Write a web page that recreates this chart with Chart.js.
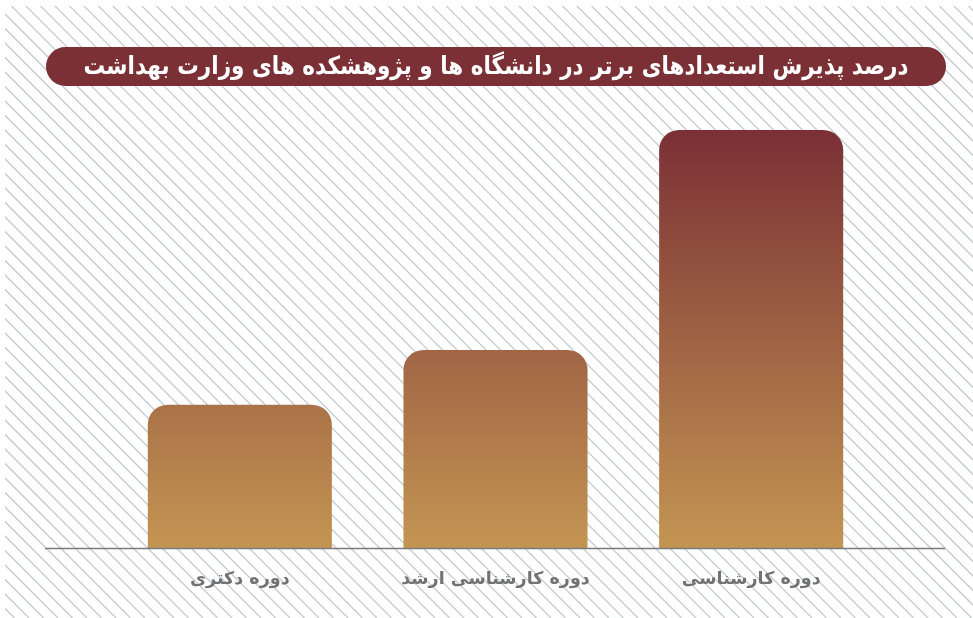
<!DOCTYPE html>
<html lang="fa">
<head>
<meta charset="utf-8">
<script src="https://cdn.jsdelivr.net/npm/chart.js@4"></script>
<style>
    body { margin: 0; background: #fff; }
    canvas { display: block; }
</style>
</head>
<body>
<canvas id="chart" width="973" height="618"></canvas>
<script>
// داده ها
const chartTitle = 'درصد پذیرش استعدادهای برتر در دانشگاه ها و پژوهشکده های وزارت بهداشت';
const categories = ['دوره دکتری', 'دوره کارشناسی ارشد', 'دوره کارشناسی'];
const values = [32, 44.2, 93.3];

const maroon = '#7b3035';
const gold = '#c39552';

// پس زمینه هاشور خورده
const hatchPlugin = {
    id: 'hatch',
    beforeDraw(chart) {
        const ctx = chart.ctx;
        const w = chart.width, h = chart.height;
        ctx.save();
        ctx.beginPath();
        ctx.rect(5, 6, w - 5, h - 6);
        ctx.clip();
        ctx.strokeStyle = '#c3cbd0';
        ctx.lineWidth = 1.25;
        for (let x = -h; x < w + 20; x += 14.5) {
            ctx.beginPath();
            ctx.moveTo(x, 0);
            ctx.lineTo(x + h, h);
            ctx.stroke();
        }
        ctx.restore();
    }
};

// عنوان داخل کادر گرد
const titlePlugin = {
    id: 'pillTitle',
    afterDraw(chart) {
        const ctx = chart.ctx;
        const x = 46, y = 47, w = 900, h = 39;
        ctx.save();
        ctx.fillStyle = maroon;
        ctx.beginPath();
        ctx.roundRect(x, y, w, h, h / 2);
        ctx.fill();
        ctx.fillStyle = '#fff';
        ctx.font = 'bold 25px "DejaVu Sans"';
        ctx.textAlign = 'center';
        ctx.textBaseline = 'middle';
        ctx.direction = 'rtl';
        ctx.fillText(chartTitle, 496, y + h / 2 + 1, 825);
        ctx.restore();
    }
};

// خط محور افقی
const baseLinePlugin = {
    id: 'baseLine',
    afterDatasetsDraw(chart) {
        const ctx = chart.ctx;
        const y0 = Math.round(chart.scales.y.getPixelForValue(0)) + 0.5;
        ctx.save();
        ctx.strokeStyle = '#7a7a7a';
        ctx.lineWidth = 1.5;
        ctx.beginPath();
        ctx.moveTo(45, y0);
        ctx.lineTo(945, y0);
        ctx.stroke();
        ctx.restore();
    }
};

function barGradient(context) {
    const chart = context.chart;
    if (!chart.chartArea) return gold;
    const yScale = chart.scales.y;
    const top = yScale.getPixelForValue(Math.max(...values));
    const bottom = yScale.getPixelForValue(0);
    const g = chart.ctx.createLinearGradient(0, top, 0, bottom);
    g.addColorStop(0, maroon);
    g.addColorStop(1, gold);
    return g;
}

new Chart(document.getElementById('chart'), {
    type: 'bar',
    data: {
        labels: categories,
        datasets: [{
            data: values,
            backgroundColor: barGradient,
            borderRadius: { topLeft: 20, topRight: 20 },
            borderSkipped: 'bottom',
            categoryPercentage: 0.8,
            barPercentage: 0.9
        }]
    },
    options: {
        responsive: false,
        animation: false,
        layout: {
            padding: { top: 100, left: 112, right: 94, bottom: 0 }
        },
        plugins: {
            legend: { display: false },
            tooltip: { enabled: false }
        },
        scales: {
            x: {
                grid: { display: false },
                border: { display: false },
                ticks: {
                    color: '#727272',
                    padding: 13,
                    font: { family: 'DejaVu Sans', size: 17.5, weight: 'bold' }
                },
                afterFit(scale) { scale.height = 70; }
            },
            y: {
                display: false,
                min: 0,
                max: 100
            }
        }
    },
    plugins: [hatchPlugin, titlePlugin, baseLinePlugin]
});
</script>
</body>
</html>
